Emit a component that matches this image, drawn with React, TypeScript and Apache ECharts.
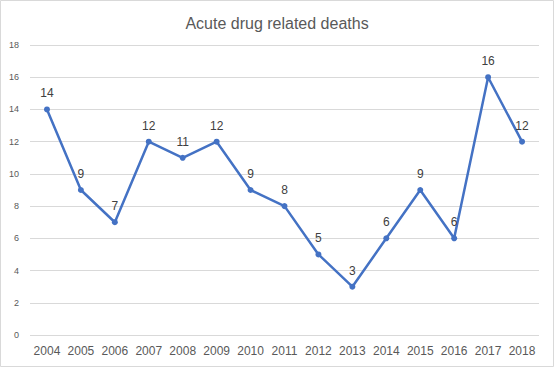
import React, { useEffect, useRef } from "react";
import * as echarts from "echarts";

const years = ["2004", "2005", "2006", "2007", "2008", "2009", "2010", "2011", "2012", "2013", "2014", "2015", "2016", "2017", "2018"];
const deaths = [14, 9, 7, 12, 11, 12, 9, 8, 5, 3, 6, 9, 6, 16, 12];
const titleText = "Acute drug related deaths";

export default function App() {
  const ref = useRef<HTMLDivElement>(null);
  useEffect(() => {
    const chart = echarts.init(ref.current!, null, { renderer: "svg" });
    chart.setOption({
      animation: false,
      backgroundColor: "#ffffff",
      title: {
        text: titleText,
        left: "center",
        top: 10,
        textStyle: { fontFamily: "Liberation Sans, Arial", fontSize: 16, fontWeight: "normal", color: "#595959" },
      },
      graphic: [
        {
          type: "rect",
          shape: { x: 0.5, y: 0.5, width: 553, height: 366 },
          style: { fill: "none", stroke: "#d9d9d9", lineWidth: 1 },
          silent: true,
        },
      ],
      grid: { left: 30, right: 15, top: 45, bottom: 34, containLabel: false },
      xAxis: {
        type: "category",
        data: years,
        boundaryGap: true,
        axisLine: { show: false },
        axisTick: { show: false },
        axisLabel: { interval: 0, color: "#595959", fontSize: 12, fontFamily: "Liberation Sans, Arial", margin: 10 },
      },
      yAxis: {
        type: "value",
        min: 0,
        max: 18,
        interval: 2,
        axisLine: { show: false },
        axisTick: { show: false },
        splitLine: { lineStyle: { color: "#d9d9d9", width: 1 } },
        axisLabel: { color: "#595959", fontSize: 9, fontFamily: "Liberation Sans, Arial", margin: 11 },
      },
      series: [
        {
          type: "line",
          data: deaths,
          symbol: "circle",
          symbolSize: 6,
          lineStyle: { color: "#4472C4", width: 2.5 },
          itemStyle: { color: "#4472C4" },
          label: {
            show: true,
            position: "top",
            distance: 7,
            color: "#404040",
            fontSize: 12,
            fontFamily: "Liberation Sans, Arial",
          },
        },
      ],
    });
    return () => chart.dispose();
  }, []);
  return <div ref={ref} style={{ position: "fixed", left: 0, top: 0, width: 554, height: 369 }} />;
}
